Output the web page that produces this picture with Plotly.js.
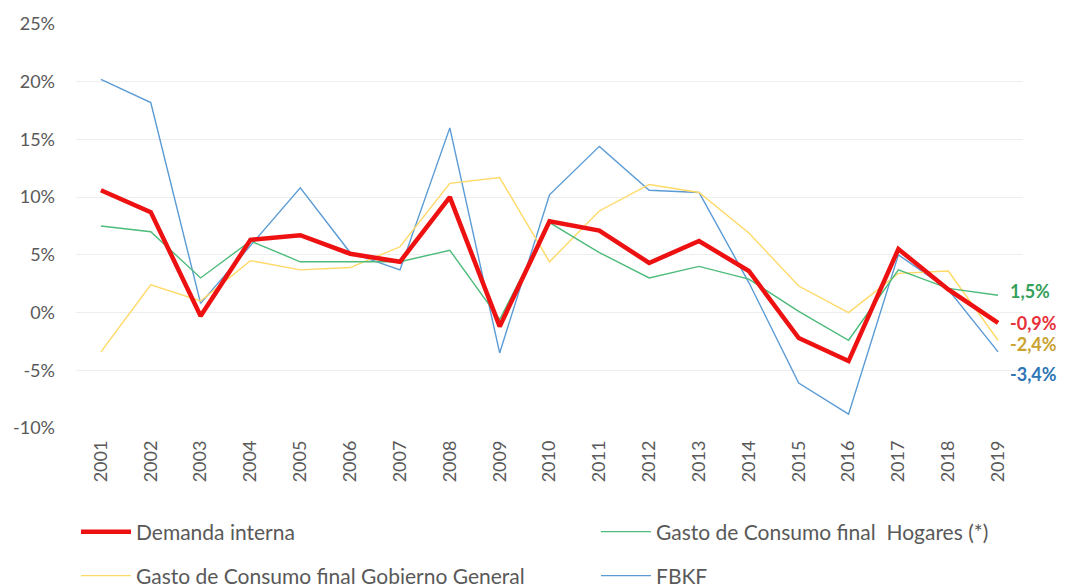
<!DOCTYPE html>
<html><head><meta charset="utf-8">
<script src="https://cdn.plot.ly/plotly-3.0.1.min.js"></script>
<style>html,body{margin:0;padding:0;background:#fff}#chart{width:1066px;height:588px}</style>
</head><body><div id="chart"></div>
<script>
const years = ["2001","2002","2003","2004","2005","2006","2007","2008","2009","2010","2011","2012","2013","2014","2015","2016","2017","2018","2019"];
const demandaInterna = [10.6,8.7,-0.3,6.3,6.7,5.1,4.4,10.0,-1.2,7.9,7.1,4.3,6.2,3.6,-2.2,-4.2,5.5,2.0,-0.9];
const hogares        = [7.5,7.0,3.0,6.2,4.4,4.4,4.4,5.4,-0.6,7.8,5.2,3.0,4.0,2.9,0.1,-2.4,3.7,2.1,1.5];
const gobierno       = [-3.4,2.4,1.0,4.5,3.7,3.9,5.7,11.2,11.7,4.4,8.8,11.1,10.4,6.9,2.3,0.0,3.4,3.6,-2.4];
const fbkf           = [20.2,18.2,0.8,5.8,10.8,5.2,3.7,16.0,-3.5,10.2,14.4,10.6,10.4,2.6,-6.1,-8.8,5.0,2.0,-3.4];
const names = ["Demanda interna","Gasto de Consumo final  Hogares (*)","Gasto de Consumo final Gobierno General","FBKF"];
const yTicks = [-10,-5,0,5,10,15,20,25];

const font = "Lato, 'Open Sans', sans-serif";
const series = [demandaInterna, hogares, gobierno, fbkf];
const colors = ["#EE1111","#4DBB7A","#FFD966","#5B9BD5"];
const labelColors = ["#E8303A","#34A05A","#C9A230","#2E75B6"];
const widths = [4.5,1.4,1.4,1.4];
const legendIds = ["legend","legend2","legend3","legend4"];
const order = [3,2,1,0];

const traces = order.map(i => ({
  x: years, y: series[i], type: "scatter", mode: "lines", name: names[i],
  line: {color: colors[i], width: widths[i]}, legend: legendIds[i],
  hoverinfo: "x+y"
}));

const fmt = v => v.toFixed(1).replace(".", ",") + "%";
const yshifts = [0, 4, -4, -22];
const last = years.length - 1;
const annotations = series.map((s, i) => ({
  x: last, y: s[last], xref: "x", yref: "y",
  text: "<b>" + fmt(s[last]) + "</b>", showarrow: false,
  xanchor: "left", xshift: 10, yshift: yshifts[i],
  font: {family: font, size: 18, color: labelColors[i]}
}));

// legend placement (container px): [left, centerY]
const legPos = [[76, 532], [596, 532], [76, 576], [596, 576]];

const layout = {
  width: 1066, height: 588,
  margin: {l: 76, r: 43, t: 24, b: 160},
  paper_bgcolor: "#fff", plot_bgcolor: "#fff",
  showlegend: true,
  xaxis: {
    type: "category", range: [-0.5, last + 0.5], autorange: false,
    tickangle: -90, showgrid: false, zeroline: false,
    showline: false, ticks: "", tickfont: {family: font, size: 18, color: "#595959"},
    ticklabelstandoff: 8
  },
  yaxis: {
    range: [-10, 25], autorange: false, tickvals: yTicks, ticktext: yTicks.map(v => v + "%"),
    gridcolor: "#ECEEF0", gridwidth: 1, zeroline: false, showline: false,
    tickfont: {family: font, size: 18, color: "#595959"}, ticklabelstandoff: 20
  },
  annotations: annotations
};
legendIds.forEach((id, i) => {
  layout[id] = {
    orientation: "h", xref: "container", yref: "container",
    x: legPos[i][0] / 1066, y: 1 - legPos[i][1] / 588, yanchor: "middle", xanchor: "left",
    itemwidth: 50, bgcolor: "rgba(0,0,0,0)",
    font: {family: font, size: 21, color: "#595959"}
  };
});

Plotly.newPlot("chart", traces, layout, {displayModeBar: false, staticPlot: true});
</script></body></html>
